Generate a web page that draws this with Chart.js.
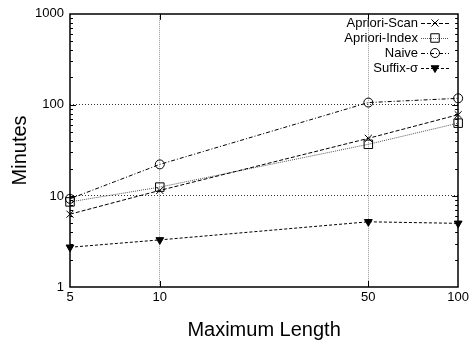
<!DOCTYPE html>
<html>
<head>
<meta charset="utf-8">
<script src="https://cdn.jsdelivr.net/npm/chart.js@4"></script>
<style>
html, body { margin: 0; padding: 0; background: #fff; }
#wrap { width: 472px; height: 350px; }
</style>
</head>
<body>
<div id="wrap"><canvas id="chart" width="472" height="350"></canvas></div>
<script>
// values (minutes, log scale)
const maxLengths = [5, 10, 50, 100];
const aprioriScan = [6.3, 11.5, 42.9, 78];
const aprioriIndex = [8.6, 12.5, 36.9, 63];
const naive = [9.3, 22.2, 106, 118];
const suffixSigma = [2.73, 3.29, 5.2, 5.0];
const seriesNames = ['Apriori-Scan', 'Apriori-Index', 'Naive', 'Suffix-σ'];
const xTicks = [5, 10, 50, 100];
const yTicks = [1, 10, 100, 1000];

const FONT = "'Liberation Sans', Arial, sans-serif";

const toPoints = (ys) => maxLengths.map((x, i) => ({ x: x, y: ys[i] }));

const makeSeries = (label, ys, color, dash, style, radius, fill, rotation) => ({
    label: label,
    data: toPoints(ys),
    borderColor: color,
    borderWidth: 1,
    borderDash: dash,
    tension: 0,
    fill: false,
    clip: false,
    pointStyle: style,
    pointRadius: radius,
    pointRotation: rotation || 0,
    pointBorderColor: '#000',
    pointBackgroundColor: fill,
    pointBorderWidth: 1
});

const datasets = [
    makeSeries(seriesNames[0], aprioriScan, '#000', [4, 2], 'crossRot', 5, 'rgba(0,0,0,0)'),
    makeSeries(seriesNames[1], aprioriIndex, '#555', [1, 1], 'rect', 6, 'rgba(0,0,0,0)'),
    makeSeries(seriesNames[2], naive, '#000', [4, 2, 1, 2], 'circle', 4.5, 'rgba(0,0,0,0)'),
    makeSeries(seriesNames[3], suffixSigma, '#000', [3, 2], 'triangle', 4.5, '#000', 180)
];

// frame, inward tick marks and the gnuplot-style legend
const framePlugin = {
    id: 'frame',
    afterDatasetsDraw(chart) {
        const ctx = chart.ctx;
        const a = chart.chartArea;
        const xs = chart.scales.x, ys = chart.scales.y;
        ctx.save();
        ctx.strokeStyle = '#000';
        ctx.lineWidth = 1;
        ctx.setLineDash([]);
        ctx.beginPath();
        // minor + major y ticks, both sides
        for (let d = 0; d < 3; d++) {
            for (let k = 1; k <= 9; k++) {
                const v = k * Math.pow(10, d);
                if (v <= 1) continue;
                const py = Math.round(ys.getPixelForValue(v)) + 0.5;
                const len = k === 1 ? 6 : 3;
                ctx.moveTo(a.left, py); ctx.lineTo(a.left + len, py);
                ctx.moveTo(a.right, py); ctx.lineTo(a.right - len, py);
            }
        }
        xTicks.slice(1, -1).forEach(v => {
            const px = Math.round(xs.getPixelForValue(v)) + 0.5;
            ctx.moveTo(px, a.bottom); ctx.lineTo(px, a.bottom - 6);
            ctx.moveTo(px, a.top); ctx.lineTo(px, a.top + 6);
        });
        ctx.stroke();
        ctx.lineWidth = 1.5;
        ctx.strokeRect(Math.round(a.left), Math.round(a.top), Math.round(a.right - a.left), Math.round(a.bottom - a.top));

        // legend
        ctx.font = '13px ' + FONT;
        ctx.textAlign = 'right';
        ctx.textBaseline = 'middle';
        chart.data.datasets.forEach((ds, i) => {
            const y = 23 + i * 15;
            ctx.fillStyle = '#000';
            ctx.fillText(ds.label, 418, y);
            ctx.beginPath();
            ctx.lineWidth = 1;
            ctx.strokeStyle = ds.borderColor;
            ctx.setLineDash(ds.borderDash);
            ctx.moveTo(421, y + 0.5);
            ctx.lineTo(449, y + 0.5);
            ctx.stroke();
            ctx.setLineDash([]);
            ctx.strokeStyle = '#000';
            ctx.fillStyle = ds.pointBackgroundColor;
            Chart.helpers.drawPoint(ctx, {
                pointStyle: ds.pointStyle,
                radius: ds.pointRadius,
                rotation: ds.pointRotation,
                borderWidth: 1
            }, 435, y);
        });
        ctx.restore();
    }
};

const innerGrid = (color) => (c) => {
    const n = c.scale.ticks.length;
    return (c.index === 0 || c.index === n - 1) ? 'rgba(0,0,0,0)' : color;
};

new Chart(document.getElementById('chart'), {
    type: 'line',
    data: { datasets: datasets },
    options: {
        responsive: false,
        animation: false,
        devicePixelRatio: 1,
        layout: { padding: { top: 11, right: 13, left: 0, bottom: 0 } },
        plugins: { legend: { display: false }, tooltip: { enabled: false } },
        scales: {
            x: {
                type: 'logarithmic',
                min: xTicks[0],
                max: xTicks[xTicks.length - 1],
                afterBuildTicks: (s) => { s.ticks = xTicks.map(v => ({ value: v })); },
                afterFit: (s) => { s.height = 63; },
                border: { display: false, dash: [1, 1] },
                grid: { color: innerGrid('#999'), drawTicks: false, lineWidth: 1 },
                ticks: {
                    autoSkip: false, maxRotation: 0, padding: 3, color: '#000',
                    font: { family: FONT, size: 13 },
                    callback: (v) => String(v)
                },
                title: {
                    display: true, text: 'Maximum Length', color: '#000',
                    font: { family: FONT, size: 20 },
                    padding: { top: 0, bottom: 8 }
                }
            },
            y: {
                type: 'logarithmic',
                min: yTicks[0],
                max: yTicks[yTicks.length - 1],
                afterBuildTicks: (s) => { s.ticks = yTicks.map(v => ({ value: v })); },
                afterFit: (s) => { s.width = 70; },
                border: { display: false, dash: [1, 2] },
                grid: { color: innerGrid('#333'), drawTicks: false, lineWidth: 1 },
                ticks: {
                    autoSkip: false, padding: 6, color: '#000',
                    font: { family: FONT, size: 13 },
                    callback: (v) => String(v)
                },
                title: {
                    display: true, text: 'Minutes', color: '#000',
                    font: { family: FONT, size: 20 },
                    padding: { top: 8, bottom: 0 }
                }
            }
        }
    },
    plugins: [framePlugin]
});
</script>
</body>
</html>
